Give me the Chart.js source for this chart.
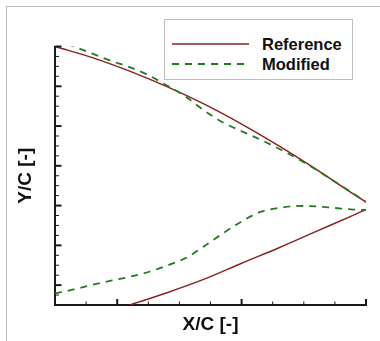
<!DOCTYPE html>
<html lang="en">
<head>
<meta charset="utf-8">
<title>Y/C vs X/C</title>
<script src="https://cdn.jsdelivr.net/npm/chart.js@4/dist/chart.umd.min.js"></script>
<style>
    html, body { margin: 0; padding: 0; background: #fff; overflow: hidden; }
    body {
        position: relative;
        width: 380px;
        height: 341px;
        font-family: "Liberation Sans", Arial, sans-serif;
    }
    .moldura {
        position: absolute;
        left: 6px; top: 6px;
        width: 500px; height: 500px;
        border-top: 1px solid #b9b9b9;
        border-left: 1px solid #b9b9b9;
    }
    #grafico { position: absolute; left: 0; top: 0; }
    .legenda {
        position: absolute;
        left: 164px; top: 19px;
        width: 187px; height: 59px;
        border: 1px solid #bdbdbd;
        background: #fff;
    }
    .legenda svg { position: absolute; left: 7px; }
    .legenda span {
        position: absolute;
        left: 97px;
        font-size: 16.5px;
        font-weight: bold;
        color: #111;
        line-height: 20px;
    }
</style>
</head>
<body>
<div class="moldura"></div>
<canvas id="grafico" width="380" height="341" data-js="grafico"></canvas>
<div class="legenda" data-js="legenda"></div>

<script>
// Reference profile, suction and pressure side
const xRefUpper = [0.75, 0.78, 0.81, 0.84, 0.87, 0.90, 0.93, 0.96, 0.99, 1.0];
const yRefUpper = [0.0600, 0.0572, 0.0538, 0.0499, 0.0455, 0.0405, 0.0350, 0.0291, 0.0229, 0.0209];
const xRefLower = [0.81, 0.84, 0.87, 0.90, 0.93, 0.96, 0.99, 1.0];
const yRefLower = [-0.0050, -0.0019, 0.0015, 0.0055, 0.0094, 0.0135, 0.0176, 0.0190];

// Modified profile
const xMod = [0.75, 0.765, 0.78, 0.795, 0.81, 0.825, 0.84, 0.855, 0.87,
              0.885, 0.90, 0.915, 0.93, 0.945, 0.96, 0.975, 0.99, 1.0];
const yModUpper = [0.0617, 0.0600, 0.0582, 0.0564, 0.0548, 0.0528, 0.0502, 0.0474, 0.0439,
                   0.0409, 0.0387, 0.0366, 0.0343, 0.0318, 0.0290, 0.0260, 0.0230, 0.0209];
const yModLower = [-0.0021, -0.0011, 0.0001, 0.0011, 0.0021, 0.0033, 0.0049, 0.0068, 0.0098,
                   0.0130, 0.0160, 0.0184, 0.0194, 0.0199, 0.0198, 0.0194, 0.0190, 0.0189];

const legendLabels = ['Reference', 'Modified'];

const eixoX = { min: 0.75, max: 1.0, major: 0.1, minor: 0.025 };
const eixoY = { min: -0.005, max: 0.06, major: 0.01, minor: 0.0025 };

const estilos = {
    Reference: { color: '#8b2222', dash: [], width: 1.5 },
    Modified: { color: '#237a23', dash: [7, 6], width: 1.8 },
};

function pontos(xs, ys) {
    return xs.map((x, i) => ({ x: x, y: ys[i] }));
}

function serie(label, data, order) {
    const estilo = estilos[label];
    return {
        label: label,
        data: data,
        showLine: true,
        borderColor: estilo.color,
        borderWidth: estilo.width,
        borderDash: estilo.dash,
        pointRadius: 0,
        cubicInterpolationMode: 'monotone',
        clip: 0,
        order: order,
    };
}

// inward tick marks, major and minor, like a Tecplot frame
const marcasInternas = {
    id: 'marcasInternas',
    afterDraw(chart) {
        const { ctx, chartArea, scales } = chart;
        ctx.save();
        ctx.strokeStyle = '#1a1a1a';

        const passos = (eixo) => {
            const n = Math.round((eixo.max - eixo.min) / eixo.minor);
            const lista = [];
            for (let i = 0; i <= n; i++) {
                const v = eixo.min + i * eixo.minor;
                const r = v / eixo.major;
                lista.push({ v: v, major: Math.abs(r - Math.round(r)) < 1e-6 });
            }
            return lista;
        };

        passos(eixoY).forEach(({ v, major }) => {
            const py = scales.y.getPixelForValue(v);
            ctx.lineWidth = major ? 2 : 1;
            ctx.beginPath();
            ctx.moveTo(chartArea.left, py);
            ctx.lineTo(chartArea.left + (major ? 6.5 : 4), py);
            ctx.stroke();
        });

        passos(eixoX).forEach(({ v, major }) => {
            const px = scales.x.getPixelForValue(v);
            ctx.lineWidth = major ? 2 : 1;
            ctx.beginPath();
            ctx.moveTo(px, chartArea.bottom);
            ctx.lineTo(px, chartArea.bottom - (major ? 6 : 3.5));
            ctx.stroke();
        });
        ctx.restore();
    }
};

Chart.defaults.font.family = '"Liberation Sans", Arial, sans-serif';

const grafico = new Chart(document.querySelector('[data-js="grafico"]'), {
    type: 'scatter',
    data: {
        datasets: [
            serie('Modified', pontos(xMod, yModUpper), 0),
            serie('Modified', pontos(xMod, yModLower), 0),
            serie('Reference', pontos(xRefUpper, yRefUpper), 1),
            serie('Reference', pontos(xRefLower, yRefLower), 1),
        ]
    },
    options: {
        responsive: false,
        animation: false,
        devicePixelRatio: 1,
        layout: { padding: { top: 46.5, right: 14, left: 0, bottom: 0 } },
        plugins: {
            legend: { display: false },
            tooltip: { enabled: false },
        },
        scales: {
            x: {
                type: 'linear',
                min: eixoX.min,
                max: eixoX.max,
                grid: { display: false },
                ticks: { display: false },
                border: { color: '#1a1a1a', width: 2 },
                title: {
                    display: true,
                    text: 'X/C [-]',
                    color: '#111',
                    font: { size: 19, weight: 'bold', lineHeight: 1.2 },
                    padding: { top: 0, bottom: 4.6 },
                },
                afterFit: (escala) => { escala.height = 36; },
            },
            y: {
                type: 'linear',
                min: eixoY.min,
                max: eixoY.max,
                grid: { display: false },
                ticks: { display: false },
                border: { color: '#1a1a1a', width: 2 },
                title: {
                    display: true,
                    text: 'Y/C [-]',
                    color: '#111',
                    font: { size: 19, weight: 'bold', lineHeight: 1.2 },
                    padding: { top: 14.6, bottom: 0 },
                },
                afterFit: (escala) => { escala.width = 55; },
            },
        },
    },
    plugins: [marcasInternas],
});

// legend drawn as HTML, one row per profile
const legenda = document.querySelector('[data-js="legenda"]');
const centros = [24, 43.5];

legendLabels.forEach((label, i) => {
    const estilo = estilos[label];
    const svg = document.createElementNS('http://www.w3.org/2000/svg', 'svg');
    svg.setAttribute('width', '78');
    svg.setAttribute('height', '4');
    svg.style.top = (centros[i] - 2) + 'px';
    const linha = document.createElementNS('http://www.w3.org/2000/svg', 'line');
    linha.setAttribute('x1', '0');
    linha.setAttribute('x2', '77');
    linha.setAttribute('y1', '2');
    linha.setAttribute('y2', '2');
    linha.setAttribute('stroke', estilo.color);
    linha.setAttribute('stroke-width', estilo.width);
    if (estilo.dash.length) linha.setAttribute('stroke-dasharray', estilo.dash.join(' '));
    svg.appendChild(linha);

    const texto = document.createElement('span');
    texto.textContent = label;
    texto.style.top = (centros[i] - 10) + 'px';

    legenda.appendChild(svg);
    legenda.appendChild(texto);
});
</script>
</body>
</html>
